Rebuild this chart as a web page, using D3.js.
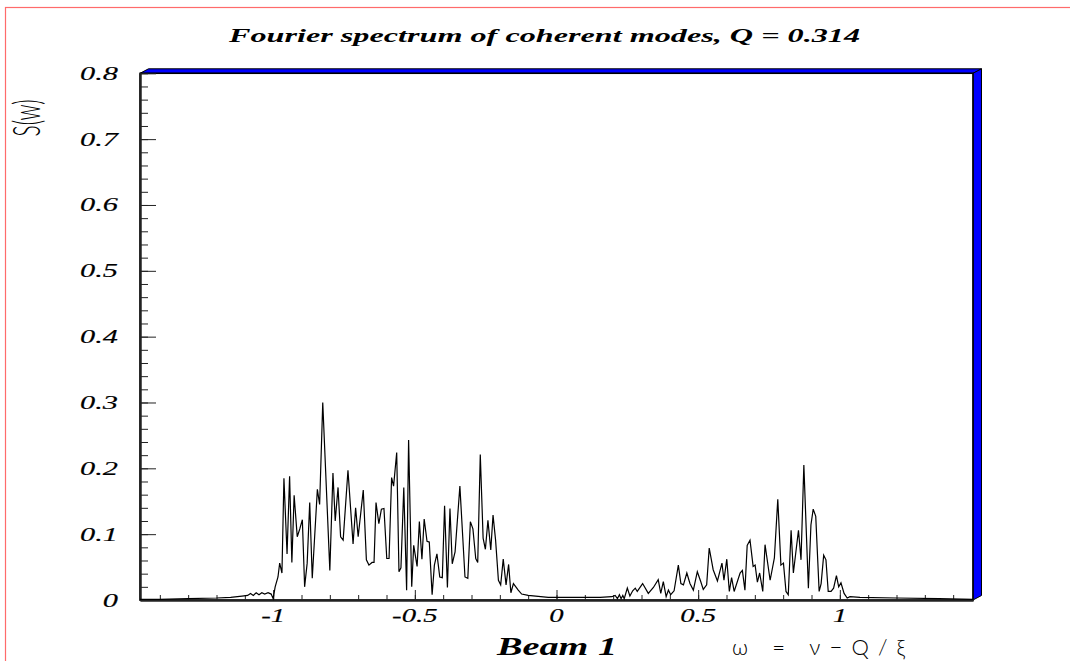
<!DOCTYPE html>
<html>
<head>
<meta charset="utf-8">
<script src="https://cdn.jsdelivr.net/npm/d3@7"></script>
<style>
  html, body { margin: 0; padding: 0; background: #ffffff; }
  svg { display: block; }
</style>
</head>
<body>
<script>
// Frequency axis values (omega) and the spectrum amplitude S(w) at each one
const omega = [
  -1.470, -1.400, -1.300, -1.200, -1.150, -1.110, -1.090, -1.080, -1.070, -1.060,
  -1.050, -1.040, -1.030, -1.018, -1.007, -1.000, -0.993, -0.983, -0.977, -0.969,
  -0.962, -0.951, -0.942, -0.934, -0.926, -0.915, -0.906, -0.897, -0.889, -0.880,
  -0.871, -0.862, -0.844, -0.836, -0.825, -0.800, -0.789, -0.781, -0.771, -0.762,
  -0.753, -0.736, -0.718, -0.709, -0.700, -0.682, -0.671, -0.662, -0.651, -0.644,
  -0.637, -0.627, -0.618, -0.609, -0.599, -0.591, -0.582, -0.575, -0.564, -0.556,
  -0.549, -0.539, -0.529, -0.522, -0.511, -0.504, -0.492, -0.484, -0.475, -0.467,
  -0.457, -0.449, -0.439, -0.431, -0.422, -0.412, -0.403, -0.395, -0.385, -0.376,
  -0.368, -0.358, -0.341, -0.323, -0.313, -0.304, -0.295, -0.285, -0.278, -0.269,
  -0.259, -0.251, -0.242, -0.232, -0.224, -0.215, -0.205, -0.197, -0.188, -0.178,
  -0.169, -0.161, -0.152, -0.135, -0.123, -0.100, -0.029, 0.000, 0.154, 0.195,
  0.207, 0.215, 0.222, 0.228, 0.234, 0.239, 0.250, 0.259, 0.269, 0.278,
  0.285, 0.304, 0.324, 0.342, 0.359, 0.368, 0.377, 0.387, 0.395, 0.403,
  0.415, 0.430, 0.439, 0.448, 0.460, 0.471, 0.483, 0.497, 0.509, 0.518,
  0.530, 0.539, 0.553, 0.568, 0.584, 0.591, 0.601, 0.610, 0.618, 0.627,
  0.648, 0.656, 0.665, 0.673, 0.683, 0.694, 0.701, 0.709, 0.717, 0.728,
  0.736, 0.754, 0.769, 0.781, 0.792, 0.801, 0.810, 0.818, 0.828, 0.836,
  0.854, 0.863, 0.873, 0.889, 0.898, 0.906, 0.915, 0.927, 0.934, 0.943,
  0.951, 0.959, 0.969, 0.978, 0.988, 0.996, 1.004, 1.015, 1.026, 1.036,
  1.071, 1.200, 1.350, 1.470
];
const spectrum = [
  0.001, 0.001, 0.002, 0.003, 0.004, 0.006, 0.007, 0.010, 0.007, 0.011,
  0.008, 0.011, 0.009, 0.011, 0.009, 0.002, 0.020, 0.035, 0.056, 0.041,
  0.185, 0.070, 0.188, 0.057, 0.159, 0.096, 0.108, 0.122, 0.020, 0.056,
  0.148, 0.033, 0.168, 0.145, 0.300, 0.045, 0.193, 0.120, 0.171, 0.096,
  0.091, 0.197, 0.085, 0.140, 0.096, 0.167, 0.061, 0.053, 0.057, 0.057,
  0.148, 0.116, 0.138, 0.139, 0.063, 0.063, 0.186, 0.173, 0.224, 0.043,
  0.049, 0.171, 0.015, 0.243, 0.020, 0.083, 0.051, 0.119, 0.062, 0.123,
  0.089, 0.088, 0.008, 0.053, 0.070, 0.035, 0.034, 0.143, 0.019, 0.139,
  0.055, 0.073, 0.173, 0.035, 0.033, 0.119, 0.108, 0.063, 0.057, 0.221,
  0.094, 0.077, 0.121, 0.076, 0.129, 0.091, 0.030, 0.023, 0.062, 0.023,
  0.054, 0.011, 0.025, 0.015, 0.009, 0.007, 0.004, 0.004, 0.004, 0.005,
  0.007, 0.002, 0.008, 0.002, 0.007, 0.002, 0.018, 0.006, 0.014, 0.018,
  0.013, 0.025, 0.010, 0.019, 0.031, 0.010, 0.028, 0.005, 0.015, 0.008,
  0.014, 0.053, 0.025, 0.023, 0.041, 0.025, 0.015, 0.043, 0.028, 0.016,
  0.023, 0.079, 0.046, 0.029, 0.056, 0.030, 0.062, 0.013, 0.034, 0.013,
  0.041, 0.045, 0.015, 0.083, 0.091, 0.051, 0.053, 0.027, 0.041, 0.013,
  0.084, 0.030, 0.064, 0.153, 0.053, 0.056, 0.013, 0.008, 0.106, 0.041,
  0.106, 0.061, 0.205, 0.018, 0.114, 0.138, 0.127, 0.013, 0.025, 0.068,
  0.061, 0.013, 0.013, 0.018, 0.037, 0.020, 0.026, 0.010, 0.003, 0.005,
  0.004, 0.003, 0.002, 0.001
];

// Axis ticks and their labels
const xMajorTicks = [-1, -0.5, 0, 0.5, 1];
const xTickLabels = ["-1", "-0.5", "0", "0.5", "1"];
const xMinorTicks = d3.range(-14, 15).map(d => d / 10);
const yMajorTicks = [0, 0.1, 0.2, 0.3, 0.4, 0.5, 0.6, 0.7, 0.8];
const yTickLabels = ["0", "0.1", "0.2", "0.3", "0.4", "0.5", "0.6", "0.7", "0.8"];
const yMinorTicks = d3.range(0, 41).map(d => d / 50);

const titleText = "Fourier spectrum of coherent modes, Q = 0.314";
const beamText = "Beam 1";
const xAxisText = "\u03c9 = \u03bd\u2212Q/\u03be";
const yAxisText = "S(w)";

const W = 1070, H = 661;
const plotL = 140, plotR = 973, plotT = 73.3, plotB = 600;
const depthX = 8.5, depthY = 4.5;

const x = d3.scaleLinear().domain([-1.47, 1.47]).range([plotL, plotR]);
const y = d3.scaleLinear().domain([0, 0.8]).range([plotB, plotT]);

const svg = d3.select("body").append("svg")
  .attr("width", W).attr("height", H);

// Canvas border
svg.append("rect")
  .attr("x", 5.5).attr("y", 7.5)
  .attr("width", W + 20).attr("height", H + 20)
  .attr("fill", "none").attr("stroke", "#ff6b6b").attr("stroke-width", 1.2);

const serif = "'Liberation Serif', 'Times New Roman', serif";
const thin = "Lato, 'DejaVu Sans', sans-serif";

// Title
svg.append("text")
  .attr("x", 229).attr("y", 41.5)
  .attr("font-family", serif).attr("font-style", "italic").attr("font-weight", "bold")
  .attr("font-size", 19)
  .attr("textLength", 631).attr("lengthAdjust", "spacingAndGlyphs")
  .text(titleText);

// 3D frame faces on top and right
const frame = svg.append("g");
frame.append("polygon")
  .attr("points", [[plotL, plotT], [plotL + depthX, plotT - depthY], [plotR + depthX, plotT - depthY], [plotR, plotT]].join(" "))
  .attr("fill", "#0000ff").attr("stroke", "#000").attr("stroke-width", 1).attr("stroke-linejoin", "round");
frame.append("polygon")
  .attr("points", [[plotR, plotT], [plotR + depthX, plotT - depthY], [plotR + depthX, plotB - depthY], [plotR, plotB]].join(" "))
  .attr("fill", "#0000ff").attr("stroke", "#000").attr("stroke-width", 1).attr("stroke-linejoin", "round");
frame.append("rect")
  .attr("x", plotL).attr("y", plotT)
  .attr("width", plotR - plotL).attr("height", plotB - plotT)
  .attr("fill", "none").attr("stroke", "#000").attr("stroke-width", 1.5);

// Ticks drawn inward by the d3 axes
const gx = svg.append("g").attr("transform", `translate(0,${plotB})`);
gx.append("g").call(d3.axisBottom(x).tickValues(xMinorTicks).tickSize(-5).tickFormat("").tickSizeOuter(0));
gx.append("g").call(d3.axisBottom(x).tickValues(xMajorTicks).tickSize(-10).tickFormat("").tickSizeOuter(0));
const gy = svg.append("g").attr("transform", `translate(${plotL},0)`);
gy.append("g").call(d3.axisLeft(y).tickValues(yMinorTicks).tickSize(-8).tickFormat("").tickSizeOuter(0));
gy.append("g").call(d3.axisLeft(y).tickValues(yMajorTicks).tickSize(-16).tickFormat("").tickSizeOuter(0));
svg.selectAll(".domain").attr("stroke", "#222").attr("stroke-width", 2);
svg.selectAll(".tick line").attr("stroke", "#222").attr("stroke-width", 1);

// Tick labels (wide italic face)
const sx = 1.6;
svg.append("g").selectAll("text").data(xMajorTicks).join("text")
  .attr("transform", d => `translate(${x(d)},622) scale(${sx},1)`)
  .attr("text-anchor", "middle")
  .attr("font-family", serif).attr("font-style", "italic").attr("font-size", 18)
  .attr("stroke", "#000").attr("stroke-width", 0.15)
  .text((d, i) => xTickLabels[i]);
svg.append("g").selectAll("text").data(yMajorTicks).join("text")
  .attr("transform", d => `translate(118,${y(d) + 6.5}) scale(${sx},1)`)
  .attr("text-anchor", "end")
  .attr("font-family", serif).attr("font-style", "italic").attr("font-size", 19)
  .attr("stroke", "#000").attr("stroke-width", 0.15)
  .text((d, i) => yTickLabels[i]);

// Spectrum line
const line = d3.line().x((d, i) => x(omega[i])).y(d => y(d));
svg.append("path")
  .datum(spectrum)
  .attr("d", line)
  .attr("fill", "none").attr("stroke", "#000").attr("stroke-width", 1.2)
  .attr("stroke-linejoin", "miter");

// Axis titles
svg.append("text")
  .attr("transform", "translate(40,118) rotate(-90) scale(0.55,1)")
  .attr("text-anchor", "middle")
  .attr("font-family", thin).attr("font-weight", 300).attr("font-size", 38)
  .text(yAxisText);
svg.append("text")
  .attr("x", 497).attr("y", 655)
  .attr("font-family", serif).attr("font-style", "italic").attr("font-weight", "bold")
  .attr("font-size", 25)
  .attr("textLength", 120).attr("lengthAdjust", "spacingAndGlyphs")
  .text(beamText);
svg.append("text")
  .attr("x", 732).attr("y", 655)
  .attr("font-family", thin).attr("font-weight", 300).attr("font-size", 22)
  .attr("textLength", 173).attr("lengthAdjust", "spacing")
  .text(xAxisText);
</script>
</body>
</html>
